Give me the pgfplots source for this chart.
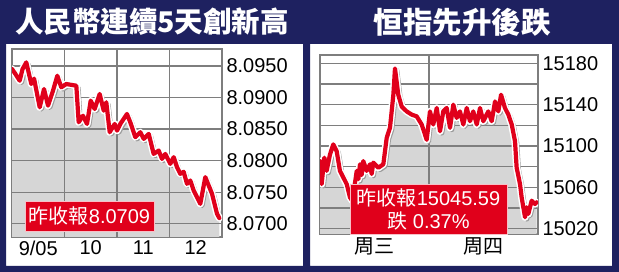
\documentclass[border=0pt]{standalone}
\usepackage{pgfplots}
\usepackage{pgfplotstable}
\pgfplotsset{compat=1.18}
\usepackage{fontspec}
\setmainfont{Liberation Sans}
\newfontfamily\cjk{Noto Sans CJK TC}
\definecolor{navy}{HTML}{1E2160}
\definecolor{rd}{HTML}{E0001B}
\definecolor{gridc}{HTML}{7E7E7E}
\definecolor{fillc}{HTML}{D6D6D6}
\definecolor{shadowc}{HTML}{9C9C9C}

\pgfplotstableread{
x y
0.000 8.09453
0.060 8.09380
0.147 8.09267
0.200 8.09450
0.272 8.09558
0.368 8.09215
0.420 8.09300
0.528 8.08846
0.610 8.09136
0.686 8.08872
0.781 8.09109
0.863 8.09346
0.939 8.09163
1.034 8.09215
1.225 8.09188
1.270 8.08609
1.352 8.08713
1.429 8.08582
1.499 8.08951
1.575 8.08819
1.670 8.09057
1.747 8.08792
1.796 8.08925
1.861 8.08451
1.956 8.08582
2.000 8.08476
2.063 8.08582
2.190 8.08740
2.253 8.08609
2.349 8.08372
2.444 8.08451
2.509 8.08345
2.604 8.08424
2.699 8.08107
2.794 8.08160
2.857 8.08028
2.920 8.08107
3.015 8.07949
3.080 8.08055
3.143 8.07897
3.206 8.07791
3.270 8.07823
3.333 8.07633
3.396 8.07685
3.461 8.07527
3.524 8.07422
3.587 8.07316
3.682 8.07739
3.810 8.07475
3.905 8.07158
3.949 8.07090
}\cny

\pgfplotstableread{
x y
0.000 15085.5
0.015 15063.2
0.040 15088.8
0.061 15076.0
0.092 15092.0
0.122 15101.6
0.153 15095.0
0.183 15076.0
0.214 15069.6
0.245 15063.2
0.275 15050.4
0.297 15047.0
0.337 15076.0
0.352 15068.0
0.367 15082.4
0.382 15072.0
0.397 15085.5
0.428 15076.0
0.459 15082.4
0.474 15073.0
0.489 15084.0
0.535 15079.0
0.581 15082.4
0.612 15108.0
0.642 15117.6
0.673 15149.6
0.688 15175.0
0.718 15149.6
0.750 15138.0
0.795 15133.5
0.841 15130.4
0.887 15128.7
0.933 15120.8
0.979 15106.0
1.009 15133.5
1.039 15120.8
1.071 15136.8
1.101 15114.3
1.131 15133.5
1.162 15136.8
1.193 15117.6
1.223 15140.0
1.254 15127.2
1.284 15133.5
1.315 15120.8
1.346 15136.8
1.376 15124.0
1.406 15133.5
1.438 15120.8
1.468 15136.8
1.498 15124.0
1.544 15133.5
1.575 15124.0
1.606 15143.1
1.636 15133.5
1.661 15149.6
1.697 15136.8
1.728 15130.4
1.759 15120.8
1.789 15104.7
1.804 15079.2
1.835 15063.2
1.850 15050.4
1.881 15031.2
1.896 15040.8
1.911 15034.4
1.942 15047.2
1.972 15044.0
1.988 15045.6
}\hsi

\pgfplotsset{
  panel/.style={
    scale only axis,
    anchor=south west,
    scaled ticks=false,
    axis line style={draw=gridc,line width=1.3pt},
    xmajorgrids=false, xminorgrids=false,
    ymajorgrids=false, yminorgrids=false,
    major tick length=0pt, minor tick length=0pt,
    ytick pos=right, yticklabel pos=right,
    xtick pos=bottom,
    tick label style={font=\fontsize{20}{22}\selectfont, text=black},
    yticklabel style={xshift=1pt},
  },
  gl/.style={gridc, line width=1.3pt, forget plot},
  redline/.style={rd, line width=4.2pt, line join=round, line cap=round},
  halo/.style={white, line width=7.2pt, line join=round, line cap=round},
  shadow/.style={shadowc, line width=5pt, line join=round, xshift=1.8pt, yshift=-1.8pt},
}

\begin{document}
\begin{tikzpicture}
\useasboundingbox (0,0) rectangle (619pt,272pt);
\fill[navy, even odd rule] (0,0) rectangle (619pt,272pt)
   (6pt,6pt) rectangle (303pt,228pt)
   (310pt,6pt) rectangle (612pt,228pt);
\node[white] at (152pt,250pt) {\fontsize{28.5}{30}\selectfont\cjk\bfseries 人民幣連續5天創新高};
\node[white] at (462pt,250pt) {\fontsize{29.5}{30}\selectfont\cjk\bfseries 恒指先升後跌};

\begin{axis}[panel, at={(12pt,35pt)}, width=210pt, height=188pt,
  xmin=0, xmax=4, ymin=8.0679, ymax=8.0977,
  xtick={0.5,1.5,2.5,3.5}, xticklabels={9/05,10,11,12},
  ytick={8.07,8.075,8.08,8.085,8.09,8.095},
  yticklabels={8.0700,8.0750,8.0800,8.0850,8.0900,8.0950}]
\addplot[fill=fillc, draw=none] table {\cny} \closedcycle;
\addplot[gl] coordinates {(1,8.0679) (1,8.0977)};
\addplot[gl] coordinates {(2,8.0679) (2,8.0977)};
\addplot[gl] coordinates {(3,8.0679) (3,8.0977)};
\addplot[gl] coordinates {(0,8.07) (4,8.07)};
\addplot[gl] coordinates {(0,8.075) (4,8.075)};
\addplot[gl] coordinates {(0,8.08) (4,8.08)};
\addplot[gl] coordinates {(0,8.085) (4,8.085)};
\addplot[gl] coordinates {(0,8.09) (4,8.09)};
\addplot[gl] coordinates {(0,8.095) (4,8.095)};
\addplot[shadow] table {\cny};
\addplot[halo] table {\cny};
\addplot[redline] table {\cny};
\end{axis}

\begin{axis}[panel, at={(320pt,38pt)}, width=218pt, height=179pt,
  xmin=0, xmax=2, ymin=15015, ymax=15188,
  xtick={0.5,1.5}, xticklabels={{\cjk 周三},{\cjk 周四}},
  ytick={15020,15060,15100,15140,15180},
  yticklabels={15020,15060,15100,15140,15180}]
\addplot[fill=fillc, draw=none] table {\hsi} \closedcycle;
\addplot[gl] coordinates {(1,15015) (1,15188)};
\addplot[gl] coordinates {(0,15020) (2,15020)};
\addplot[gl] coordinates {(0,15040) (2,15040)};
\addplot[gl] coordinates {(0,15060) (2,15060)};
\addplot[gl] coordinates {(0,15080) (2,15080)};
\addplot[gl] coordinates {(0,15100) (2,15100)};
\addplot[gl] coordinates {(0,15120) (2,15120)};
\addplot[gl] coordinates {(0,15140) (2,15140)};
\addplot[gl] coordinates {(0,15160) (2,15160)};
\addplot[gl] coordinates {(0,15180) (2,15180)};
\addplot[shadow] table {\hsi};
\addplot[halo] table {\hsi};
\addplot[redline] table {\hsi};
\end{axis}

\node[fill=rd, draw=white!75!rd, line width=0.8pt, text=white, minimum width=129pt, minimum height=30pt, inner sep=0pt,
  font=\fontsize{20}{22}\selectfont]
  at (89.5pt,56pt) {{\cjk 昨收報}8.0709};
\node[fill=rd, draw=white!75!rd, line width=0.8pt, text=white, minimum width=157pt, minimum height=50pt, inner sep=0pt, align=center,
  font=\fontsize{20}{23}\selectfont]
  at (428.5pt,63pt) {{\cjk 昨收報}15045.59\\{\cjk 跌} 0.37\%};
\end{tikzpicture}
\end{document}
